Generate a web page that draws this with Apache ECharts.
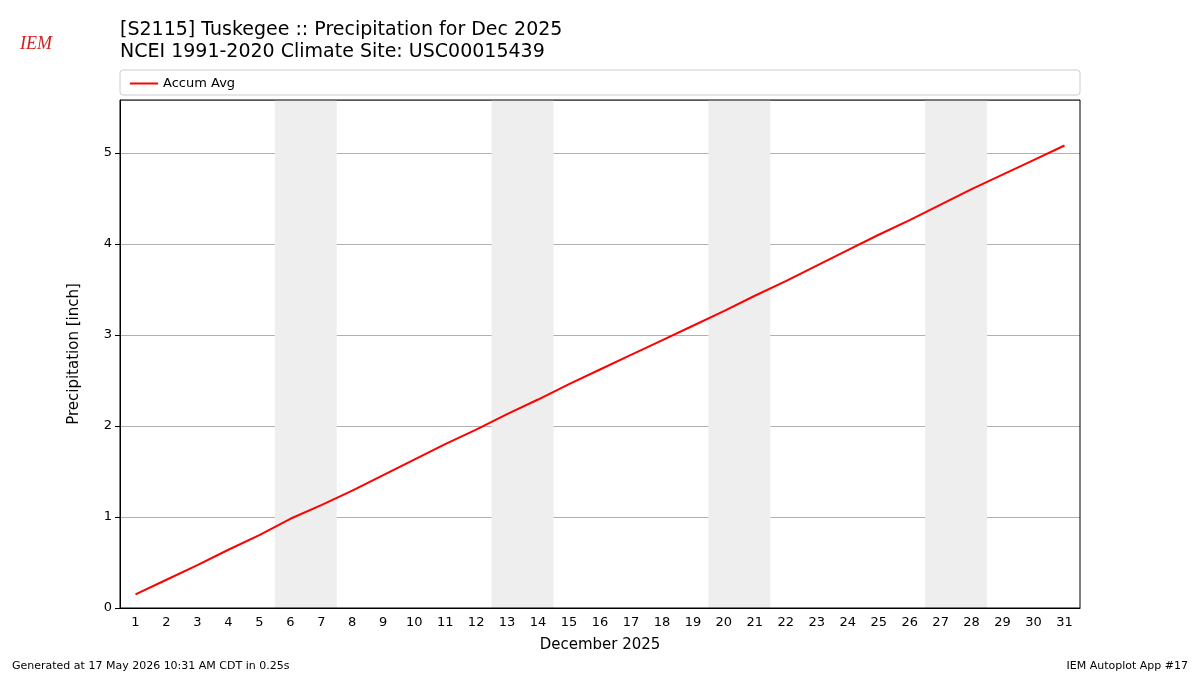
<!DOCTYPE html>
<html><head><meta charset="utf-8">
<script src="https://cdn.jsdelivr.net/npm/echarts@6/dist/echarts.min.js"></script>
<style>html,body{margin:0;padding:0;background:#fff}#c{width:1200px;height:675px}</style>
</head><body><div id="c"></div>
<script>
const days = Array.from({length:31},(_,i)=>String(i+1));
const accumAvg = [0.15,0.31,0.47,0.64,0.80,0.98,1.13,1.29,1.46,1.63,1.80,1.96,2.13,2.29,2.46,2.62,2.78,2.94,3.10,3.26,3.43,3.59,3.76,3.93,4.10,4.26,4.43,4.60,4.76,4.92,5.08];
const weekends = [[5.5,7.5],[12.5,14.5],[19.5,21.5],[26.5,28.5]];
const chart = echarts.init(document.getElementById('c'));
chart.setOption({
  animation:false,
  textStyle:{fontFamily:'DejaVu Sans'},
  title:[{text:'[S2115] Tuskegee :: Precipitation for Dec 2025\nNCEI 1991-2020 Climate Site: USC00015439',left:115,top:14,
    textStyle:{fontSize:19,fontWeight:'normal',color:'#000',lineHeight:22,fontFamily:'DejaVu Sans'}},
    {text:'Generated at 17 May 2026 10:31 AM CDT in 0.25s',left:7,top:656,textStyle:{fontSize:11,fontWeight:'normal',color:'#000'}},
    {text:'IEM Autoplot App #17',right:7,top:656,textStyle:{fontSize:11,fontWeight:'normal',color:'#000'}}],
  graphic:[{type:'text',left:20,top:35,style:{text:'IEM',fill:'#d02020',font:'italic 18px Liberation Serif'}},
    {type:'rect',shape:{x:120,y:70,width:960,height:25,r:3},style:{fill:'none',stroke:'#ccc'}},
    {type:'rect',z:10,shape:{x:120,y:100,width:960,height:508},style:{fill:'none',stroke:'#000',lineWidth:1}}],
  legend:{left:125,top:72,itemWidth:28,itemHeight:2,textStyle:{fontSize:13,color:'#000'},data:[{name:'Accum Avg',icon:'rect'}]},
  grid:{left:120,right:120,top:100,bottom:67},
  xAxis:[{type:'category',data:days,boundaryGap:true,name:'December 2025',nameLocation:'middle',nameGap:30,
    nameTextStyle:{fontSize:15,color:'#000'},
    axisLine:{lineStyle:{color:'#000'}},axisTick:{alignWithLabel:true,lineStyle:{color:'#000'}},
    axisLabel:{color:'#000',fontSize:13,interval:0}},
   {type:'value',min:0.5,max:31.5,show:false}],
  yAxis:{type:'value',min:0,max:5.58,interval:1,name:'Precipitation [inch]',nameLocation:'middle',nameGap:38,
    nameTextStyle:{fontSize:15,color:'#000'},
    axisLine:{show:true,lineStyle:{color:'#000'}},axisTick:{show:true,lineStyle:{color:'#000'}},
    axisLabel:{color:'#000',fontSize:13,showMaxLabel:false},splitLine:{lineStyle:{color:'#b0b0b0'}}},
  series:[
    {type:'line',xAxisIndex:1,data:[],markArea:{silent:true,itemStyle:{color:'#eeeeee'},
      data:weekends.map(w=>[{xAxis:w[0]},{xAxis:w[1]}])}},
    {name:'Accum Avg',type:'line',data:accumAvg,showSymbol:false,lineStyle:{color:'#ff0000',width:2},itemStyle:{color:'#ff0000'},z:5}
  ]
});
</script></body></html>
